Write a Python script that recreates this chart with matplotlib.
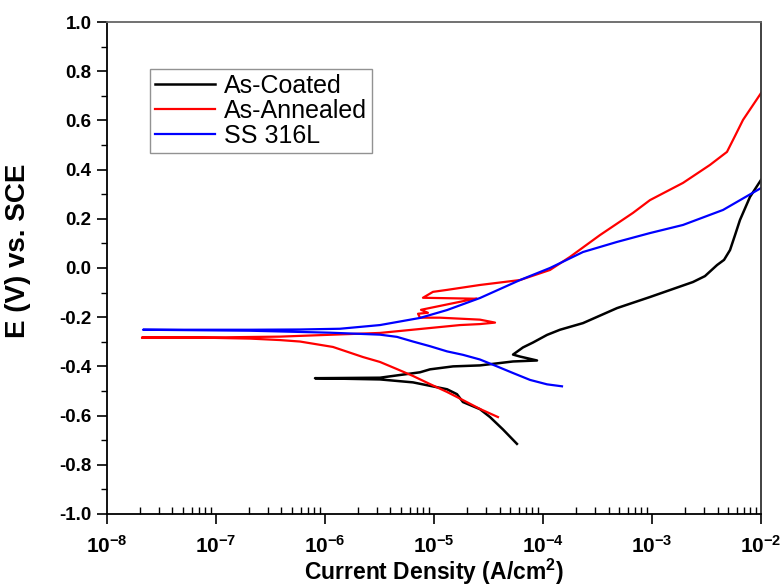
import numpy as np
import matplotlib
matplotlib.use("Agg")
import matplotlib.pyplot as plt
from matplotlib.ticker import NullFormatter

plt.rcParams['font.family'] = ['Liberation Sans', 'DejaVu Sans']
plt.rcParams['mathtext.fontset'] = 'custom'
plt.rcParams['mathtext.rm'] = 'Liberation Sans'
plt.rcParams['mathtext.bf'] = 'Liberation Sans:bold'

# log10 of current density (A/cm2) and potential (V vs SCE)
# each curve: cathodic end -> Ecorr -> anodic end
coated_logi = [-4.238, -4.367, -4.485, -4.577, -4.733, -4.788, -4.879, -5.191, -5.494, -6.090,
               -5.494, -5.127, -5.035, -4.824, -4.577, -4.274, -4.054, -4.210, -4.274,
               -4.183, -4.091, -3.962, -3.843, -3.632, -3.320, -3.018, -2.624, -2.514,
               -2.403, -2.339, -2.284, -2.238, -2.193, -2.101, -2.0]
coated_E = [-0.715, -0.656, -0.606, -0.574, -0.545, -0.513, -0.493, -0.465, -0.453, -0.448,
            -0.446, -0.424, -0.412, -0.400, -0.396, -0.380, -0.376, -0.360, -0.352,
            -0.323, -0.303, -0.272, -0.251, -0.224, -0.163, -0.118, -0.057, -0.033,
            0.012, 0.033, 0.073, 0.134, 0.195, 0.289, 0.358]

annealed_logi = [-4.412, -4.577, -4.733, -4.879, -5.035, -5.191, -5.338, -5.494, -5.650,
                 -5.925, -6.227, -6.411, -6.686, -7.144, -7.676,
                 -7.144, -6.411, -5.494, -5.035, -4.760, -4.577, -4.439, -4.577,
                 -4.944, -5.127, -5.145, -5.054, -5.118, -4.668, -4.604, -5.100, -5.008,
                 -4.879, -4.577, -4.210, -3.935, -3.752, -3.476, -3.174, -3.018, -2.715,
                 -2.468, -2.312, -2.238, -2.165, -2.0]
annealed_E = [-0.606, -0.573, -0.537, -0.504, -0.472, -0.439, -0.411, -0.382, -0.362,
              -0.321, -0.299, -0.293, -0.287, -0.283, -0.283,
              -0.283, -0.279, -0.264, -0.244, -0.232, -0.228, -0.222, -0.210,
              -0.202, -0.202, -0.186, -0.182, -0.170, -0.129, -0.125, -0.121, -0.097,
              -0.089, -0.069, -0.049, -0.008, 0.045, 0.134, 0.224, 0.276, 0.346,
              0.419, 0.472, 0.537, 0.602, 0.711]

ss_logi = [-3.825, -3.962, -4.118, -4.274, -4.421, -4.577, -4.733, -4.879, -5.035, -5.191,
           -5.338, -5.494, -5.952, -6.686, -7.667,
           -6.686, -6.227, -5.861, -5.494, -5.127, -4.879, -4.577, -4.210, -3.935,
           -3.632, -3.320, -3.018, -2.715, -2.348, -2.0]
ss_E = [-0.481, -0.473, -0.455, -0.427, -0.400, -0.372, -0.353, -0.339, -0.318, -0.299,
        -0.280, -0.271, -0.263, -0.255, -0.251,
        -0.251, -0.250, -0.247, -0.232, -0.203, -0.171, -0.122, -0.049, 0.000,
        0.065, 0.106, 0.142, 0.175, 0.236, 0.325]

y_ticks = [-1.0, -0.8, -0.6, -0.4, -0.2, 0.0, 0.2, 0.4, 0.6, 0.8, 1.0]
y_labels = ['-1.0', '-0.8', '-0.6', '-0.4', '-0.2', '0.0', '0.2', '0.4', '0.6', '0.8', '1.0']
x_ticks = [1e-8, 1e-7, 1e-6, 1e-5, 1e-4, 1e-3, 1e-2]
x_labels = [r'$\mathbf{10^{-8}}$', r'$\mathbf{10^{-7}}$', r'$\mathbf{10^{-6}}$',
            r'$\mathbf{10^{-5}}$', r'$\mathbf{10^{-4}}$', r'$\mathbf{10^{-3}}$',
            r'$\mathbf{10^{-2}}$']

fig = plt.figure(figsize=(7.81, 5.87), dpi=100)
ax = fig.add_axes([0.1366, 0.1244, 0.8378, 0.8381])

ax.plot(10 ** np.array(coated_logi), coated_E, color='black', lw=1.8, label='As-Coated')
ax.plot(10 ** np.array(annealed_logi), annealed_E, color='#ff0000', lw=1.6, label='As-Annealed')
ax.plot(10 ** np.array(ss_logi), ss_E, color='#0000ff', lw=1.6, label='SS 316L')

ax.set_xscale('log')
ax.set_xlim(1e-8, 1e-2)
ax.set_ylim(-1.0, 1.0)

ax.set_yticks(y_ticks)
ax.set_yticklabels(y_labels, fontweight='bold')
ax.set_yticks(np.arange(-0.9, 1.0, 0.2), minor=True)
ax.set_xticks(x_ticks)
ax.set_xticklabels(x_labels)
minor_x = [m * 10.0 ** e for e in range(-8, -2) for m in range(2, 10)]
ax.set_xticks(minor_x, minor=True)
ax.xaxis.set_minor_formatter(NullFormatter())
ax.yaxis.set_minor_formatter(NullFormatter())

ax.tick_params(axis='y', which='major', direction='out', length=7, width=1.2, labelsize=13.5, pad=4)
ax.tick_params(axis='y', which='minor', direction='out', length=4, width=1.0)
ax.tick_params(axis='x', which='major', direction='out', length=7, width=1.2, labelsize=15, pad=8)
ax.tick_params(axis='x', which='minor', direction='in', length=5, width=1.0)

ax.spines['left'].set_linewidth(1.3)
ax.spines['bottom'].set_linewidth(1.3)
ax.spines['top'].set_color('#666666')
ax.spines['right'].set_color('#333333')
ax.spines['top'].set_linewidth(1.3)
ax.spines['right'].set_linewidth(1.3)

ax.set_xlabel(r'Current Density (A/cm$^\mathbf{2}$)', fontsize=16.5, fontweight='bold', labelpad=0)
ax.xaxis.set_label_coords(0.5, -0.088, transform=ax.transAxes)
ax.set_ylabel('E (V) vs. SCE', fontsize=20, fontweight='bold')
ax.yaxis.set_label_coords(-0.115, 0.535, transform=ax.transAxes)

leg = ax.legend(loc='upper left', bbox_to_anchor=(0.066, 0.905), fontsize=18,
                frameon=True, fancybox=False, edgecolor='#777777', handlelength=2.4,
                borderpad=0.2, labelspacing=0.05, handletextpad=0.35, borderaxespad=0)
leg.get_frame().set_linewidth(1.0)

fig.savefig('out.png', dpi=100)
